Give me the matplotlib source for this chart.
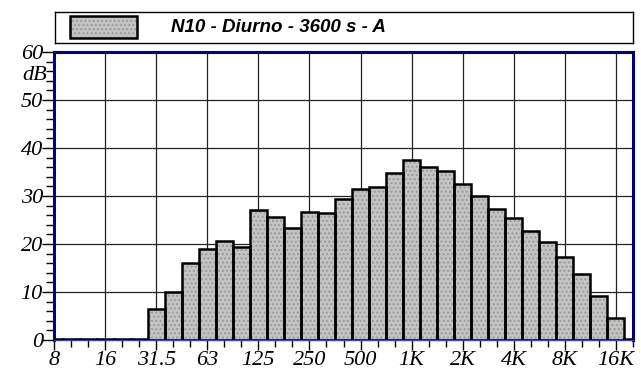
import numpy as np
import matplotlib.pyplot as plt
from matplotlib.patches import Rectangle

# third-octave bands (nominal) and levels in dB
bands = [8, 10, 12.5, 16, 20, 25, 31.5, 40, 50, 63, 80, 100, 125, 160, 200, 250,
         315, 400, 500, 630, 800, 1000, 1250, 1600, 2000, 2500, 3150, 4000,
         5000, 6300, 8000, 10000, 12500, 16000, 20000]
levels = [0.3, 0.3, 0.3, 0.3, 0.3, 0.3, 6.4, 10.1, 16.0, 19.0, 20.6, 19.4, 27.0,
          25.7, 23.4, 26.6, 26.4, 29.3, 31.5, 31.9, 34.8, 37.5, 36.1, 35.3, 32.6,
          30.0, 27.3, 25.5, 22.8, 20.4, 17.3, 13.8, 9.2, 4.6, 0.3]
octave_labels = ['8', '16', '31.5', '63', '125', '250', '500', '1K', '2K', '4K', '8K', '16K']
legend_text = 'N10 - Diurno - 3600 s - A'

# exact base-2 centres so the bars sit on the octave grid
idx = np.round(3 * np.log2(np.array(bands) / 1000.0))
centres = 1000.0 * 2 ** (idx / 3)
left = centres * 2 ** (-1 / 6)
width = centres * (2 ** (1 / 6) - 2 ** (-1 / 6))
oct_pos = centres[::3]

serif = ['Liberation Serif', 'DejaVu Serif']
fill_col, dot_col = '#c4c4c4', '#9a9a9a'

fig = plt.figure(figsize=(6.41, 3.80), dpi=100)
ax = fig.add_axes([54 / 641, 40 / 380, 579 / 641, 288 / 380])

ax.bar(left, levels, width=width, align='edge', color=fill_col,
       edgecolor=dot_col, hatch='....', linewidth=0, zorder=2)
ax.bar(left, levels, width=width, align='edge', fill=False,
       edgecolor='black', linewidth=1.8, zorder=3)

ax.set_xscale('log')
ax.set_xlim(centres[0], centres[-1])
ax.set_ylim(0, 60)

ax.set_xticks(oct_pos)
ax.set_xticklabels(octave_labels)
ax.set_xticks(centres, minor=True)
ax.xaxis.set_minor_formatter(plt.NullFormatter())
ax.set_yticks(np.arange(0, 61, 10))
ax.set_yticks(np.arange(0, 61, 2), minor=True)

for lab in ax.get_xticklabels() + ax.get_yticklabels():
    lab.set_family(serif)
    lab.set_style('italic')
    lab.set_fontsize(16)

ax.tick_params(axis='x', which='major', length=7, width=1, pad=1, direction='out')
ax.tick_params(axis='x', which='minor', length=5, width=1, direction='out')
ax.tick_params(axis='y', which='major', length=9, width=1, pad=-1, direction='out')
ax.tick_params(axis='y', which='minor', length=6, width=1, direction='out')

ax.grid(True, which='major', color='#222222', linewidth=0.9, zorder=0)
ax.set_axisbelow(True)

for side in ['left', 'top', 'right']:
    ax.spines[side].set_color('#000080')
    ax.spines[side].set_linewidth(2.2)
ax.spines['bottom'].set_color('#4040c0')
ax.spines['bottom'].set_linewidth(1)

ax.text(-0.012, 55.2, 'dB', transform=ax.get_yaxis_transform(), ha='right',
        va='center', family=serif, style='italic', fontsize=16)

# legend box above the plot
lax = fig.add_axes([55 / 641, (380 - 43) / 380, 578 / 641, 31 / 380])
lax.set_xlim(0, 578)
lax.set_ylim(0, 31)
lax.set_xticks([])
lax.set_yticks([])
for s in lax.spines.values():
    s.set_linewidth(1)
    s.set_color('black')
lax.add_patch(Rectangle((15, 5), 67, 22, facecolor=fill_col, edgecolor=dot_col,
                        hatch='....', linewidth=0))
lax.add_patch(Rectangle((15, 5), 67, 22, fill=False, edgecolor='black', linewidth=1.8))
lax.text(116, 16, legend_text, ha='left', va='center',
         family=['Liberation Sans', 'DejaVu Sans'], weight='bold', style='italic',
         fontsize=13.5)

fig.savefig('out.png', dpi=100)
